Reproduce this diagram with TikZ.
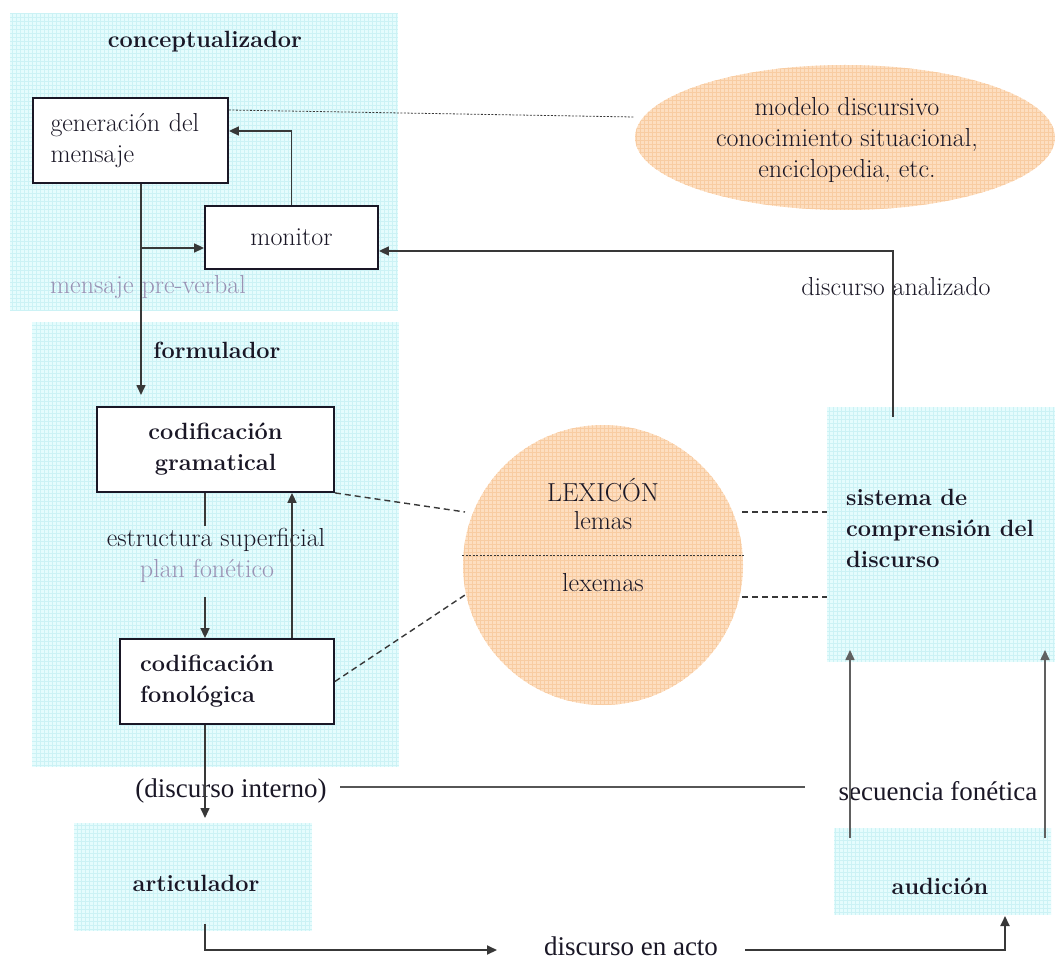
\documentclass[tikz,border=0pt]{standalone}
\usepackage{fontspec}
\setmainfont{Latin Modern Roman}
\newfontfamily\timesfont{Liberation Serif}
\usetikzlibrary{arrows.meta,shapes.geometric,calc}

\definecolor{zonefill}{HTML}{E5FCFD}
\definecolor{zonegrid}{HTML}{CCF2F5}
\definecolor{peach}{HTML}{FDDEC0}
\definecolor{peachgrid}{HTML}{F8CCA2}
\definecolor{ink}{HTML}{1A1726}
\definecolor{faint}{HTML}{9A92B4}
\definecolor{wire}{HTML}{383838}

\newcommand\txtreg{\fontsize{26}{31}\selectfont}
\newcommand\txtbold{\fontsize{23.5}{31}\selectfont\bfseries}
\newcommand\txtthin{\timesfont\fontsize{27}{31}\selectfont}

\tikzset{
  zone/.style={anchor=north west, inner sep=0pt, fill=zonefill,
    path picture={\draw[zonegrid, line width=0.4pt, step=4pt]
      (path picture bounding box.south west) grid (path picture bounding box.north east);}},
  box/.style={draw=ink, line width=1.8pt, fill=white, inner sep=0pt, text=ink},
  lbl/.style={text=ink, inner sep=0pt},
  arrow/.style={draw=wire, line width=1.6pt, -{Triangle[length=10pt,width=9pt]}},
  wire/.style={draw=wire, line width=1.6pt},
  heavywire/.style={draw=wire!85, line width=2.4pt},
  dashlink/.style={draw=wire, line width=1.4pt, dash pattern=on 6pt off 4pt},
  dotlink/.style={draw=wire, line width=0.8pt, dash pattern=on 2pt off 1.5pt},
}

\begin{document}
\begin{tikzpicture}[x=1pt,y=-1pt]
\useasboundingbox (0,0) rectangle (1055,960);

% shaded regions
\node[zone, minimum width=388pt, minimum height=297pt] (zconc) at (10,13) {};
\node[zone, minimum width=367pt, minimum height=445pt] (zform) at (32,322) {};
\node[zone, minimum width=238pt, minimum height=108pt] (zart) at (74,823) {};
\node[zone, minimum width=228pt, minimum height=255pt] (zsis) at (827,407) {};
\node[zone, minimum width=217pt, minimum height=87pt] (zaud) at (834,828) {};

% discourse model ellipse
\fill[peach] (845,137.5) ellipse [x radius=210, y radius=72.5];
\begin{scope}
  \clip (845,137.5) ellipse [x radius=210, y radius=72.5];
  \draw[peachgrid, line width=0.4pt, step=4pt] (630,60) grid (1060,215);
\end{scope}
\node[ellipse, minimum width=420pt, minimum height=145pt, align=center,
  font=\txtreg, text=ink] (disc) at (847,140) {modelo discursivo\\conocimiento situacional,\\enciclopedia, etc.};

% lexicon circle
\fill[peach] (603,565) circle [radius=140];
\begin{scope}
  \clip (603,565) circle [radius=140];
  \draw[peachgrid, line width=0.4pt, step=4pt] (460,420) grid (748,710);
\end{scope}
\node[circle, minimum size=280pt, inner sep=0pt] (lex) at (603,565) {};
\node[lbl, font=\txtreg] (llex) at (603,490) {LEXICÓN};
\node[lbl, font=\txtreg] (llem) at (603,521) {lemas};
\node[lbl, font=\txtreg] (lxm) at (603,583) {lexemas};
\draw[dotlink] ($(lex.center)+(-141,-10)$) -- ($(lex.center)+(141,-10)$);

% boxes
\node[box, minimum width=195pt, minimum height=85pt, text width=160pt,
  inner xsep=17.5pt, align=left, font=\txtreg] (gen) at (130.5,140.5) {generación del\\mensaje};
\node[box, minimum width=173pt, minimum height=63pt, font=\txtreg] (mon) at (291.5,237.5) {monitor};
\node[box, minimum width=237pt, minimum height=85pt, align=center, font=\txtbold] (cg) at (215.5,449.5) {codificación\\gramatical};
\node[box, minimum width=214pt, minimum height=85pt, text width=174pt,
  inner xsep=20pt, align=left, font=\txtbold] (cf) at (227,681.5) {codificación\\fonológica};

% labels
\node[lbl, font=\txtbold] (lconc) at (205,42) {conceptualizador};
\node[lbl, font=\txtbold] (lform) at (217,350) {formulador};
\node[lbl, font=\txtbold] (lart) at (196,883) {articulador};
\node[lbl, font=\txtbold] (laud) at (940,886) {audición};
\node[lbl, font=\txtbold, align=left, anchor=west] (lsis) at (846,528) {sistema de\\comprensión del\\discurso};
\node[lbl, font=\txtreg, text=faint] (lpre) at (148,287) {mensaje pre-verbal};
\node[lbl, font=\txtreg] (lsup) at (216,540) {estructura superficial};
\node[lbl, font=\txtreg, text=faint] (lplan) at (207,571) {plan fonético};
\node[lbl, font=\txtreg] (lanal) at (896,287) {discurso analizado};
\node[lbl, font=\txtthin] (lint) at (231,791) {(discurso interno)};
\node[lbl, font=\txtthin] (lsec) at (938,791) {secuencia fonética};
\node[lbl, font=\txtthin] (lacto) at (631,946) {discurso en acto};

% connector end points
\coordinate (cgin) at (141,395);
\coordinate (br) at (141,248);
\coordinate (g1) at (0,131);
\coordinate (g2) at (0,110);
\coordinate (d1) at (634,117);
\coordinate (s1) at (893,417);
\coordinate (m1) at (0,251);
\coordinate (e1) at (205,526);
\coordinate (e2) at (205,597);
\coordinate (u1) at (292,0);
\coordinate (artin) at (205,818);
\coordinate (ao) at (205,924);
\coordinate (ab) at (497,950);
\coordinate (ac) at (745,950);
\coordinate (ad) at (1005,916);
\coordinate (i1) at (340,787);
\coordinate (i2) at (805,787);
\coordinate (p1) at (850,838);
\coordinate (p2) at (1045,838);
\coordinate (q) at (0,650);
\coordinate (lexa) at (465,512);
\coordinate (lexb) at (465,595);
\coordinate (lexc) at (742,512);
\coordinate (lexd) at (742,597);

% conceptualizer flow
\draw[arrow] (gen.south -| cgin) -- (cgin);
\draw[arrow] (br) -- (mon.west |- br);
\draw[arrow] (mon.north) |- (gen.east |- g1);
\draw[dotlink] (gen.east |- g2) -- (d1);
\draw[arrow] (s1) |- (mon.east |- m1);

% formulator flow
\draw[wire] (cg.south -| e1) -- (e1);
\draw[arrow] (e2) -- (cf.north -| e2);
\draw[arrow] (cf.north -| u1) -- (cg.south -| u1);
\draw[arrow] (cf.south -| artin) -- (artin);

% lexicon links
\draw[dashlink] (cg.south east) -- (lexa);
\draw[dashlink] (cf.east) -- (lexb);
\draw[dashlink] (lexc) -- (zsis.west |- lexc);
\draw[dashlink] (lexd) -- (zsis.west |- lexd);

% overt and internal speech
\draw[heavywire] (i1) -- (i2);
\draw[arrow, line width=2pt] (ao) |- (ab);
\draw[arrow, line width=2pt] (ac) -| (ad);
\draw[arrow, draw=wire!80] (p1) -- (p1 |- q);
\draw[arrow, draw=wire!80] (p2) -- (p2 |- q);
\end{tikzpicture}
\end{document}
